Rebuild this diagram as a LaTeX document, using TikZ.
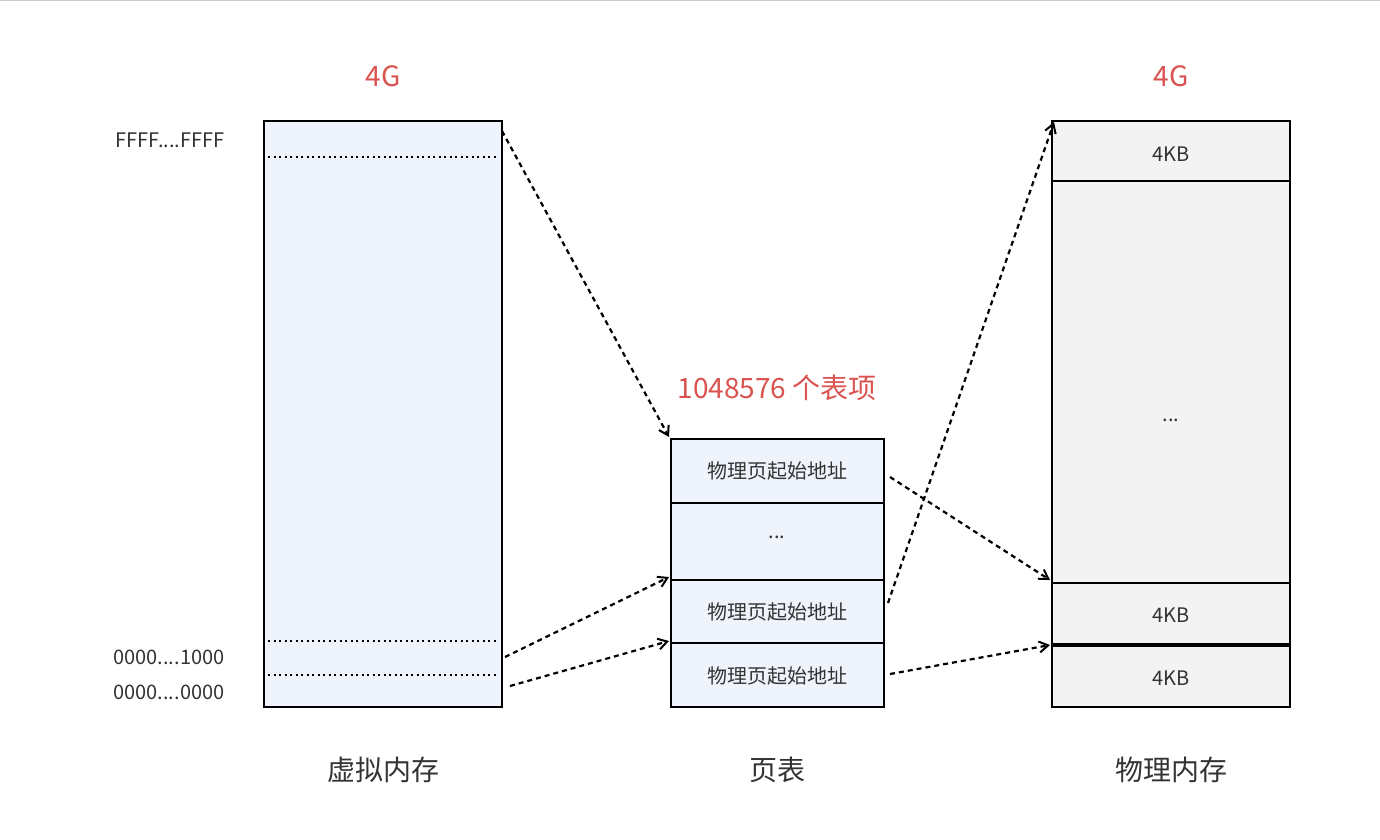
\documentclass[tikz,border=0pt]{standalone}
\usepackage{fontspec}
\setmainfont{Noto Sans CJK SC}
\usetikzlibrary{arrows.meta}
\definecolor{vblue}{HTML}{EEF3FC}
\definecolor{pgray}{HTML}{F3F3F3}
\definecolor{lred}{HTML}{D9534F}
\definecolor{txt}{HTML}{333333}
\begin{document}
\begin{tikzpicture}[x=1pt,y=-1pt,
  box/.style={draw=black,line width=2.5pt},
  dotl/.style={line width=2pt,dash pattern=on 2pt off 3.5pt},
  arr/.style={line width=2.2pt,dash pattern=on 5pt off 4pt,-{Straight Barb[length=9pt,width=11pt,line width=2pt]}},
  small/.style={font=\fontsize{20}{24}\selectfont,text=txt},
  big/.style={font=\fontsize{28}{32}\selectfont,text=txt},
  red/.style={font=\fontsize{28}{32}\selectfont,text=lred}]
\useasboundingbox (0,0) rectangle (1380,839);
\draw[gray!40,line width=1pt] (0,0.5) -- (1380,0.5);
% virtual memory
\draw[box,fill=vblue] (264,121) rectangle (502,707);
\coordinate (vtop) at (502,131);
\draw[dotl] (268,157) -- (497,157);
\draw[dotl] (268,641) -- (497,641);
\draw[dotl] (268,675) -- (497,675);
\coordinate (v1) at (505,657);
\coordinate (v0) at (510,686);
\node[small,anchor=east] (lf) at (228,140) {FFFF....FFFF};
\node[small,anchor=east] (l1) at (228,657) {0000....1000};
\node[small,anchor=east] (l0) at (228,692) {0000....0000};
% page table
\draw[box,fill=vblue] (671,439) rectangle (884,707);
\draw[box] (671,503) -- (884,503) (671,580) -- (884,580) (671,643) -- (884,643);
\node[small] (p1) at (777,471) {物理页起始地址};
\node[small] (pd) at (777,537) {...};
\node[small] (p2) at (777,612) {物理页起始地址};
\node[small] (p3) at (777,676) {物理页起始地址};
% physical
\draw[box,fill=pgray] (1052,121) rectangle (1290,707);
\draw[box] (1052,181) -- (1290,181) (1052,583) -- (1290,583);
\draw[draw=black,line width=4.5pt] (1052,645) -- (1290,645);
\node[small] (m1) at (1171,154) {4KB};
\node[small] (md) at (1171,420) {...};
\node[small] (m2) at (1171,615) {4KB};
\node[small] (m3) at (1171,678) {4KB};
% labels
\node[red] (g1) at (383,76) {4G};
\node[red] (g2) at (1171,76) {4G};
\node[red] (cnt) at (777,388) {1048576 个表项};
\node[big] (b1) at (383,770) {虚拟内存};
\node[big] (b2) at (777,770) {页表};
\node[big] (b3) at (1171,770) {物理内存};
% arrows
\coordinate (a1) at (669,437);
\coordinate (a2) at (669,577);
\coordinate (a3) at (669,641);
\coordinate (s1) at (890,477);
\coordinate (s2) at (888,603);
\coordinate (s3) at (890,674);
\coordinate (t1) at (1050,580);
\coordinate (t2) at (1054,122);
\coordinate (t3) at (1050,645);
\draw[arr] (vtop) -- (a1);
\draw[arr] (v1) -- (a2);
\draw[arr] (v0) -- (a3);
\draw[arr] (s1) -- (t1);
\draw[arr] (s2) -- (t2);
\draw[arr] (s3) -- (t3);
\end{tikzpicture}
\end{document}
